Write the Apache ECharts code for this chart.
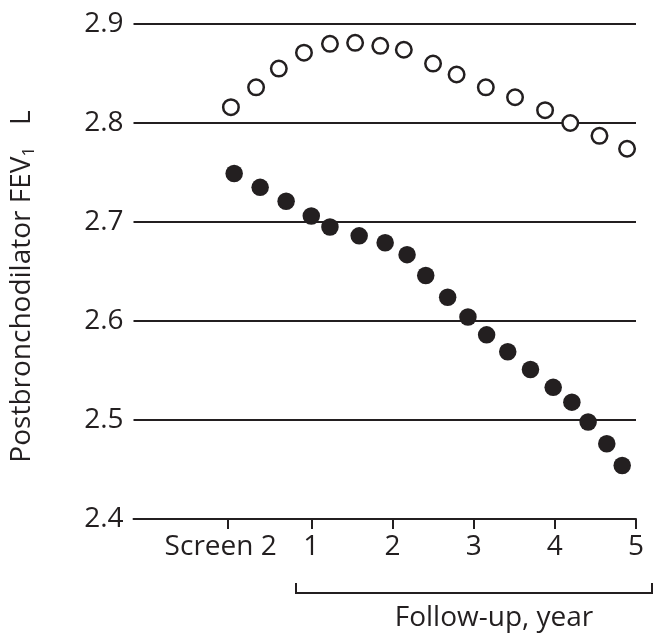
<!DOCTYPE html>
<html>
<head>
<meta charset="utf-8">
<script src="https://cdn.jsdelivr.net/npm/echarts@6/dist/echarts.min.js"></script>
<style>
  html, body { margin: 0; padding: 0; background: #fff; }
  #chart { width: 658px; height: 635px; }
</style>
</head>
<body>
<div id="chart"></div>
<script>
// time in years from the Screen 2 visit, FEV1 in litres
const openYears = [0.01, 0.32, 0.60, 0.91, 1.23, 1.54, 1.85, 2.14, 2.50, 2.79, 3.15, 3.51, 3.88, 4.19, 4.55, 4.89];
const openFev = [2.816, 2.836, 2.855, 2.871, 2.880, 2.881, 2.878, 2.874, 2.860, 2.849, 2.836, 2.826, 2.813, 2.800, 2.787, 2.774];

const filledYears = [0.05, 0.37, 0.69, 1.00, 1.23, 1.59, 1.91, 2.18, 2.41, 2.68, 2.93, 3.16, 3.42, 3.70, 3.98, 4.21, 4.41, 4.64, 4.83];
const filledFev = [2.749, 2.735, 2.721, 2.706, 2.695, 2.686, 2.679, 2.667, 2.646, 2.624, 2.604, 2.586, 2.569, 2.551, 2.533, 2.518, 2.498, 2.476, 2.454];

const xTickValues = [-0.03, 1, 2, 3, 4, 5];
const xTickLabels = ['Screen 2', '1', '2', '3', '4', '5'];

const ink = '#231f20';
const font = 'Open Sans';

const chart = echarts.init(document.getElementById('chart'));

const option = {
    animation: false,
    textStyle: { fontFamily: font, color: ink },
    grid: { left: 133, right: 22, top: 24, bottom: 116 },
    xAxis: {
        type: 'value',
        min: -1.19,
        max: 5,
        splitLine: { show: false },
        axisLine: { show: true, lineStyle: { color: ink, width: 2 } },
        axisTick: {
            show: true,
            customValues: xTickValues,
            length: 10,
            lineStyle: { color: ink, width: 2 }
        },
        axisLabel: {
            customValues: xTickValues,
            margin: 14,
            fontSize: 28,
            fontFamily: font,
            color: ink,
            formatter: function (v) {
                const i = xTickValues.indexOf(v);
                const txt = i >= 0 ? xTickLabels[i] : '';
                return i === 0 ? '{s|' + txt + '}' : txt;
            },
            rich: {
                s: { fontSize: 28, fontFamily: font, color: ink, padding: [0, 14, 0, 0] }
            }
        }
    },
    yAxis: {
        type: 'value',
        min: 2.4,
        max: 2.9,
        interval: 0.1,
        axisLine: { show: false },
        axisTick: { show: false },
        splitLine: { show: true, lineStyle: { color: ink, width: 2 } },
        axisLabel: {
            margin: 10,
            fontSize: 28,
            fontFamily: font,
            color: ink,
            formatter: function (v) { return v.toFixed(1); }
        },
        name: '{a|Postbronchodilator FEV}{b|1}{a|   L}',
        nameLocation: 'middle',
        nameGap: 96,
        nameTextStyle: {
            padding: [0, 30, 0, 0],
            rich: {
                a: { fontSize: 28, fontFamily: font, color: ink },
                b: { fontSize: 17, fontFamily: font, color: ink, verticalAlign: 'bottom', padding: [14, 0, 0, 0] }
            }
        }
    },
    graphic: [
        {
            type: 'polyline',
            shape: { points: [[296, 583], [296, 593], [652, 593], [652, 583]] },
            style: { stroke: ink, lineWidth: 2, fill: null }
        },
        {
            type: 'text',
            x: 494,
            y: 618,
            style: {
                text: 'Follow-up, year',
                font: '28px "Open Sans"',
                fill: ink,
                align: 'center',
                verticalAlign: 'middle'
            }
        }
    ],
    series: [
        {
            name: 'open',
            type: 'scatter',
            symbol: 'circle',
            symbolSize: 15.5,
            itemStyle: { color: '#fff', borderColor: ink, borderWidth: 2.5, opacity: 1 },
            data: openYears.map((x, i) => [x, openFev[i]])
        },
        {
            name: 'filled',
            type: 'scatter',
            symbol: 'circle',
            symbolSize: 17.5,
            itemStyle: { color: ink, opacity: 1 },
            data: filledYears.map((x, i) => [x, filledFev[i]])
        }
    ]
};

chart.setOption(option);
</script>
</body>
</html>
